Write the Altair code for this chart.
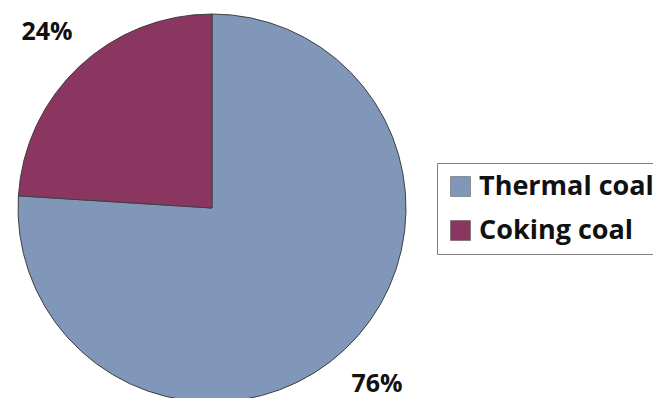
import altair as alt
import pandas as pd

categories = ["Thermal coal", "Coking coal"]
shares = [76, 24]
labels = ["76%", "24%"]
colors = ["#8197b9", "#8b3660"]

df = pd.DataFrame({"type": categories, "share": shares, "label": labels, "order": [0, 1]})

base = alt.Chart(df).encode(
    theta=alt.Theta("share:Q", stack=True),
    order=alt.Order("order:Q"),
    x=alt.value(212),
    y=alt.value(208),
)

pie = base.mark_arc(outerRadius=194, stroke="#404040", strokeWidth=1).encode(
    color=alt.Color(
        "type:N",
        sort=categories,
        scale=alt.Scale(domain=categories, range=colors),
        legend=alt.Legend(
            title=None,
            orient="none",
            legendX=437,
            legendY=163,
            padding=10,
            strokeColor="#808080",
            symbolType="square",
            symbolSize=400,
            symbolStrokeColor="#505050",
            symbolStrokeWidth=0.5,
            labelFont="Open Sans",
            labelFontWeight="bold",
            labelFontSize=27,
            labelColor="#111111",
            labelOffset=5,
            rowPadding=16,
            labelLimit=300,
        ),
    )
)

text = base.mark_text(
    radius=241, font="Open Sans", fontWeight="bold", fontSize=25, color="#111111"
).encode(text="label:N")

chart = (
    (pie + text)
    .properties(width=653, height=398, autosize=alt.AutoSizeParams(type="none"), padding=0)
    .configure_view(stroke=None)
)

chart.save("out.html", embed_options={"renderer": "svg", "actions": False})
